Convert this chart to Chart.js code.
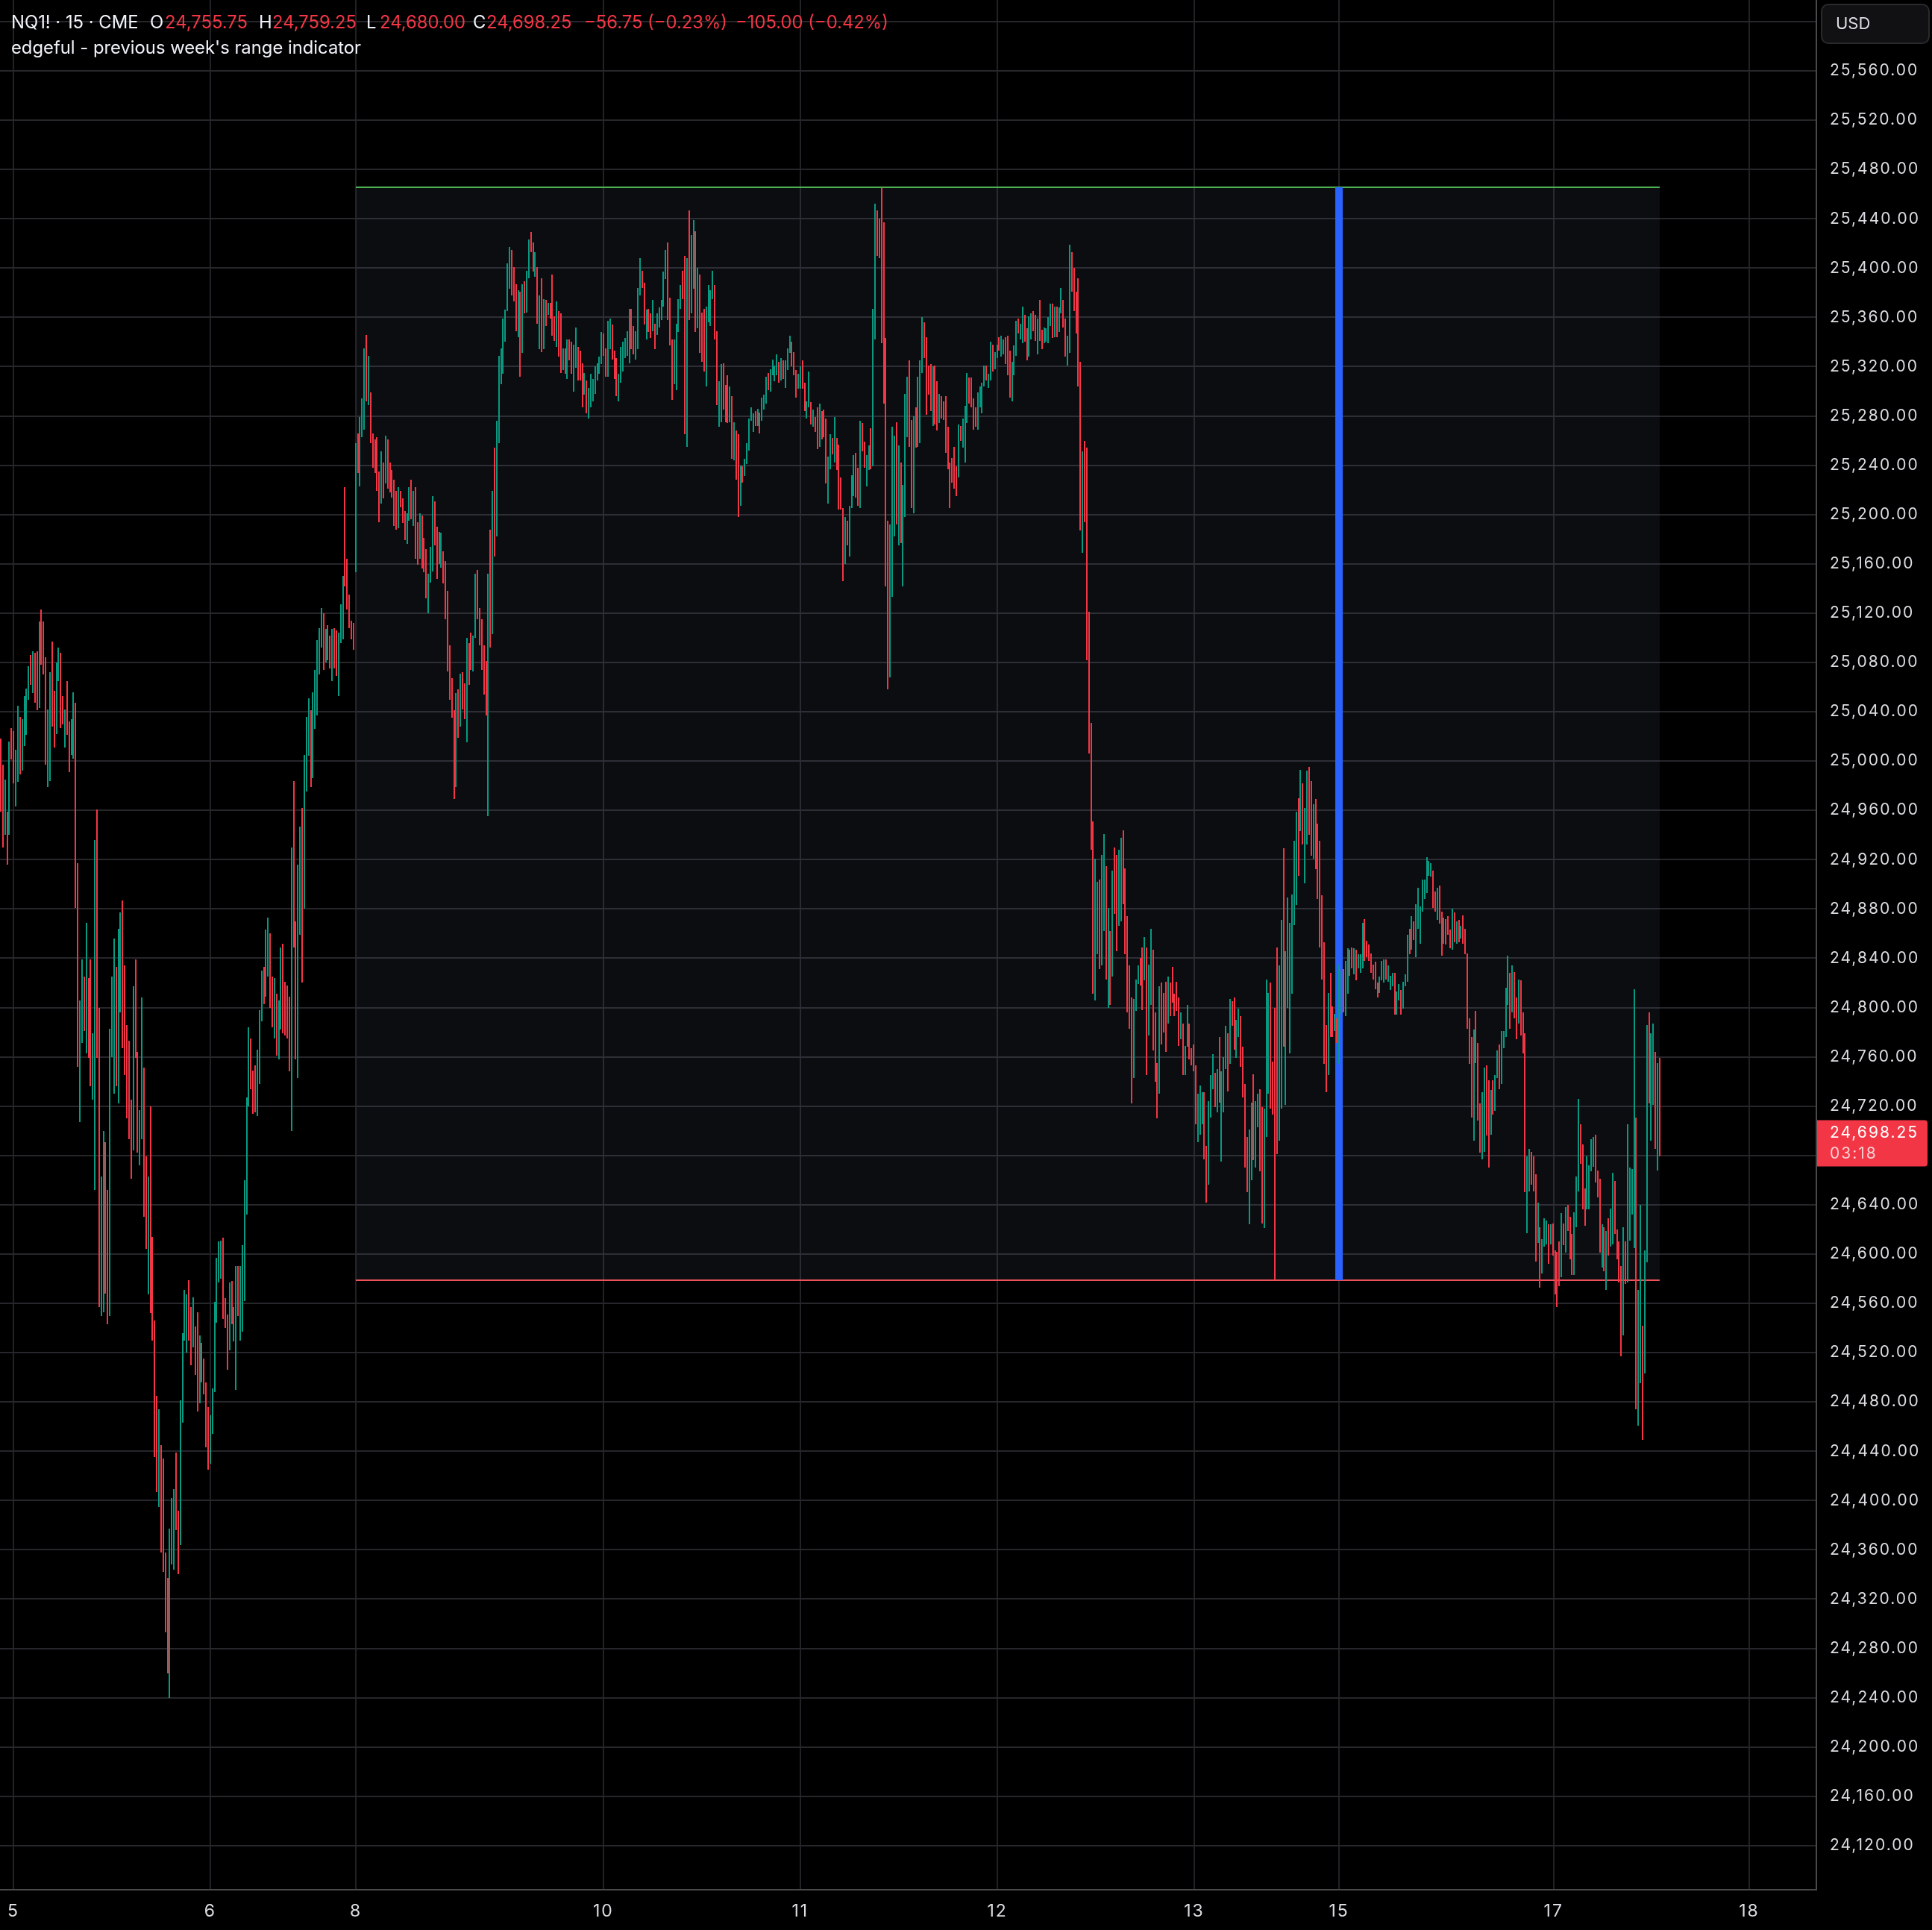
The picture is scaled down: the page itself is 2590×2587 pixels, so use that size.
<!DOCTYPE html>
<html>
<head>
<meta charset="utf-8">
<title>NQ1! 15</title>
<script src="https://cdn.jsdelivr.net/npm/chart.js@4/dist/chart.umd.min.js"></script>
<style>
  html, body { margin: 0; padding: 0; background: #000; }
  #wrap { position: relative; width: 2590px; height: 2587px; overflow: hidden; }
  #priceChart { display: block; }
  .legend { position: absolute; font: 23.8px Inter, Roboto, sans-serif; color: #f23645; white-space: pre; line-height: 26px; }
  .legend.white { color: #f0f3fa; }
</style>
</head>
<body>
<div id="wrap">
  <canvas id="priceChart" width="2590" height="2587"></canvas>
  <span class="legend white" style="left:15px;top:17px">NQ1! · 15 · CME</span>
  <span class="legend white" style="left:201px;top:17px">O</span>
  <span class="legend" style="left:221px;top:17px">24,755.75</span>
  <span class="legend white" style="left:347px;top:17px">H</span>
  <span class="legend" style="left:365px;top:17px">24,759.25</span>
  <span class="legend white" style="left:491px;top:17px">L</span>
  <span class="legend" style="left:509px;top:17px">24,680.00</span>
  <span class="legend white" style="left:634px;top:17px">C</span>
  <span class="legend" style="left:652px;top:17px">24,698.25</span>
  <span class="legend" style="left:783px;top:17px">−56.75 (−0.23%)</span>
  <span class="legend" style="left:986px;top:17px">−105.00 (−0.42%)</span>
  <span class="legend white" style="left:15px;top:51px">edgeful - previous week's range indicator</span>
</div>
<script>
// ----- valeurs (une ligne par zone d'image) -----
const barHighs = [
  25018,24997,24985,24959,25016,25027,25024,25009,25045,25036,25034,25053,25059,25077,25086,25089,25088,25089,25113,25123,25113,25084,25042,25072,25097,25057,25080,25092,25088,25053,25042,25065,25032,25034,25056,25047,24917,24806,24839,24825,24869,24824,24839,24779,24936,24961,24800,24663,24700,24691,24652,24783,24825,24856,24833,24864,24877,24887,24834,24786,24773,24725,24817,24839,24764,24717,24808,24751,24679,24663,24720,24614,24546,24485,24474,24445,24434,24358,24337,24377,24402,24409,24439,24392,24481,24536,24571,24567,24579,24557,24565,24541,24553,24534,24528,24515,24496,24476,24469,24491,24561,24597,24610,24611,24613,24564,24551,24577,24578,24557,24590,24590,
  24590,24607,24660,24727,24784,24775,24749,24753,24766,24798,24830,24833,24863,24873,24860,24825,24824,24811,24806,24849,24852,24821,24818,24809,24930,24984,24870,24916,24947,24962,25005,25036,25051,25041,25056,25074,25098,25108,25124,25120,25107,25110,25102,25107,25108,25106,25104,25127,25150,25222,25164,25135,25114,25112,25258,25266,25279,25294,25335,25346,25329,25299,25266,25261,25263,25235,25251,25242,25264,25261,25242,25236,25228,25219,25222,25219,25213,25203,25201,25222,25228,25219,25222,25194,25201,25199,25181,25172,25152,25174,25215,25211,25190,25186,25185,25170,25162,25138,25094,25067,25041,25055,25058,25071,25072,25063,25100,25096,25104,25102,25152,25155,
  25124,25115,25094,25081,25152,25188,25219,25254,25276,25329,25335,25359,25366,25404,25417,25415,25401,25387,25382,25381,25387,25389,25398,25423,25429,25421,25413,25401,25378,25392,25375,25374,25372,25372,25395,25361,25373,25365,25363,25335,25335,25342,25342,25340,25338,25352,25336,25333,25323,25315,25309,25303,25314,25310,25320,25323,25328,25348,25347,25335,25357,25359,25354,25333,25327,25314,25336,25340,25343,25349,25367,25367,25353,25349,25384,25408,25398,25388,25366,25367,25363,25374,25355,25363,25368,25374,25397,25415,25421,25376,25342,25342,25355,25375,25386,25398,25410,25408,25447,25427,25439,25430,25400,25395,25364,25367,25369,25386,25382,25398,25386,
  25349,25308,25322,25323,25305,25313,25304,25296,25275,25268,25265,25240,25239,25245,25258,25278,25287,25282,25284,25286,25283,25295,25297,25312,25315,25318,25326,25321,25330,25324,25327,25325,25325,25335,25345,25340,25332,25317,25314,25320,25325,25307,25292,25316,25291,25285,25279,25287,25290,25284,25285,25278,25247,25265,25262,25279,25262,25257,25230,25205,25198,25195,25207,25232,25248,25250,25238,25276,25274,25259,25248,25256,25270,25367,25452,25447,25440,25465,25437,25343,25195,25192,25271,25264,25275,25256,25242,25224,25298,25312,25325,25277,25280,25287,25312,25325,25360,25356,25344,25321,25322,25320,25321,25308,25298,25296,25292,25296,25271,25242,25246,25255,
  25239,25273,25272,25278,25288,25315,25311,25311,25294,25287,25299,25304,25307,25321,25321,25314,25340,25338,25332,25338,25344,25345,25342,25344,25345,25333,25324,25337,25357,25359,25355,25369,25362,25351,25361,25363,25365,25362,25359,25374,25350,25352,25351,25360,25371,25371,25369,25369,25368,25384,25374,25359,25345,25419,25413,25400,25381,25392,25324,25251,25260,25254,25121,25031,24951,24921,24902,24904,24924,24941,24915,24881,24862,24911,24930,24924,24928,24938,24944,24913,24874,24834,24808,24807,24823,24834,24840,24849,24857,24849,24835,24864,24847,24796,24755,24817,24820,24812,24821,24825,24820,24833,24811,24821,24808,24796,24787,24769,24802,24787,24767,24770,
  24753,24730,24737,24731,24731,24688,24724,24745,24762,24747,24750,24776,24748,24760,24785,24779,24807,24805,24808,24790,24799,24793,24768,24738,24695,24701,24723,24746,24724,24730,24734,24719,24718,24823,24812,24820,24756,24800,24849,24834,24871,24929,24846,24889,24869,24892,24935,24959,24970,24993,24982,24962,24992,24995,24984,24965,24969,24949,24935,24891,24853,24786,24812,24828,24801,24795,24791,24835,24830,24831,24838,24848,24847,24849,24848,24847,24843,24843,24869,24872,24854,24851,24844,24835,24837,24820,24825,24838,24839,24839,24834,24826,24828,24828,24813,24819,24814,24821,24827,24859,24864,24874,24870,24884,24897,24882,24904,24904,24922,24919,24917,
  24911,24894,24897,24899,24878,24873,24872,24874,24863,24880,24877,24870,24871,24866,24875,24864,24844,24791,24776,24782,24797,24771,24722,24731,24751,24753,24741,24733,24741,24745,24765,24770,24781,24781,24816,24842,24828,24834,24829,24808,24823,24822,24796,24779,24679,24685,24683,24679,24665,24642,24622,24612,24629,24627,24624,24624,24625,24603,24602,24610,24633,24625,24638,24640,24630,24616,24634,24663,24726,24705,24689,24653,24679,24672,24693,24695,24697,24668,24661,24624,24622,24619,24629,24637,24666,24659,24620,24610,24590,24622,24610,24705,24670,24669,24815,24711,24571,24640,24542,24603,24786,24796,24779,24787,24764,24755,24759
];
const barLows = [
  24959,24930,24940,24916,24940,25001,24982,24963,24983,24989,24992,25012,25021,25050,25062,25055,25047,25041,25043,25078,25070,24997,24979,24984,25028,25011,25022,25065,25027,25030,25011,25021,24991,25005,25002,24881,24752,24707,24771,24781,24763,24759,24736,24725,24652,24759,24557,24550,24553,24568,24543,24550,24760,24730,24736,24722,24796,24767,24745,24710,24693,24661,24684,24759,24682,24672,24693,24630,24604,24567,24552,24530,24435,24407,24395,24358,24342,24293,24260,24240,24348,24344,24376,24340,24364,24463,24530,24520,24530,24510,24524,24502,24472,24479,24496,24486,24443,24425,24430,24454,24488,24544,24577,24580,24547,24540,24506,24522,24543,24529,24490,24550,
  24530,24537,24562,24632,24720,24734,24714,24715,24712,24738,24789,24803,24809,24825,24800,24784,24775,24761,24758,24782,24779,24777,24775,24748,24700,24849,24758,24743,24859,24820,24880,24975,25004,24979,24986,25026,25037,25070,25092,25074,25080,25082,25075,25065,25075,25069,25053,25096,25099,25142,25123,25108,25099,25090,25153,25234,25223,25263,25269,25292,25289,25258,25238,25234,25219,25194,25209,25213,25225,25221,25218,25214,25191,25188,25189,25206,25193,25179,25176,25195,25196,25191,25164,25159,25164,25156,25153,25132,25120,25145,25154,25175,25148,25160,25157,25144,25115,25073,25050,25035,24969,24979,25019,25028,25042,25034,25015,25062,25074,25073,25100,25115,
  25094,25074,25054,25037,24955,25092,25103,25166,25182,25258,25306,25314,25340,25365,25383,25378,25373,25349,25344,25312,25331,25363,25364,25392,25413,25397,25393,25355,25334,25332,25334,25353,25362,25359,25345,25341,25336,25328,25315,25317,25314,25310,25325,25314,25300,25319,25309,25309,25287,25297,25282,25278,25287,25292,25298,25309,25314,25322,25329,25312,25312,25334,25326,25310,25296,25292,25307,25316,25327,25329,25323,25334,25330,25326,25334,25378,25384,25354,25342,25348,25343,25349,25334,25346,25352,25358,25369,25391,25358,25337,25293,25306,25301,25348,25367,25375,25265,25255,25358,25363,25383,25348,25351,25331,25324,25316,25304,25356,25353,25375,25342,
  25289,25271,25275,25285,25275,25274,25275,25245,25244,25228,25198,25207,25226,25231,25241,25252,25276,25267,25272,25272,25266,25276,25285,25290,25301,25300,25313,25308,25313,25307,25309,25310,25303,25317,25331,25320,25313,25295,25302,25302,25302,25284,25278,25287,25273,25271,25267,25253,25255,25261,25263,25225,25209,25237,25249,25242,25236,25204,25204,25146,25160,25175,25166,25205,25215,25214,25207,25205,25251,25238,25223,25236,25237,25239,25342,25410,25408,25339,25290,25142,25058,25068,25133,25182,25192,25175,25177,25142,25198,25263,25255,25205,25201,25254,25255,25258,25315,25327,25281,25297,25284,25272,25273,25268,25274,25278,25277,25250,25237,25205,25226,25221,
  25215,25230,25260,25254,25242,25274,25290,25287,25269,25271,25269,25287,25282,25304,25309,25303,25309,25316,25318,25327,25333,25328,25330,25322,25313,25295,25292,25313,25329,25347,25342,25339,25340,25325,25328,25342,25349,25341,25330,25341,25334,25339,25340,25339,25353,25343,25344,25344,25348,25363,25352,25328,25321,25331,25381,25365,25347,25304,25187,25169,25194,25082,25006,24928,24811,24806,24843,24831,24834,24862,24823,24800,24802,24825,24876,24846,24866,24870,24884,24843,24796,24783,24722,24743,24797,24819,24818,24798,24822,24745,24777,24802,24765,24740,24710,24730,24770,24780,24764,24787,24793,24804,24793,24797,24769,24774,24745,24745,24768,24758,24753,24748,
  24705,24691,24697,24705,24677,24642,24656,24711,24734,24719,24715,24723,24675,24715,24750,24732,24754,24785,24766,24759,24776,24752,24727,24670,24650,24624,24660,24676,24670,24703,24667,24625,24621,24695,24730,24718,24713,24579,24681,24692,24718,24768,24721,24800,24763,24811,24867,24883,24907,24943,24932,24901,24932,24940,24923,24921,24912,24888,24849,24823,24754,24731,24745,24776,24776,24781,24771,24754,24795,24796,24793,24811,24826,24832,24827,24822,24832,24828,24832,24838,24841,24838,24828,24823,24815,24808,24812,24822,24820,24823,24821,24814,24817,24794,24794,24806,24794,24799,24817,24821,24843,24847,24855,24841,24864,24852,24878,24888,24893,24907,24906,
  24881,24878,24871,24868,24842,24852,24851,24859,24848,24847,24853,24852,24853,24856,24852,24843,24783,24754,24711,24692,24755,24708,24682,24677,24683,24696,24670,24697,24713,24716,24743,24734,24738,24767,24776,24802,24783,24796,24791,24774,24787,24777,24763,24650,24617,24651,24656,24651,24594,24609,24573,24584,24606,24608,24592,24608,24599,24567,24557,24574,24581,24607,24601,24619,24596,24583,24583,24622,24651,24673,24636,24623,24636,24636,24667,24671,24658,24646,24601,24589,24586,24571,24599,24606,24608,24616,24596,24577,24517,24534,24576,24577,24611,24632,24605,24474,24461,24495,24449,24503,24593,24722,24692,24721,24685,24668,24679
];
const barDirections = (
  "rrgrgrrggr" + "ggggrgrrgr" + "rrggrrggrr" + "grrggrrggr" + "grrggrrggr" + "rgggrggrrr" + "rrgrrggrrg" + "rrrrgrrrrg" + "ggrrggggrr" + "grrgrrrrgg" + "ggggrrrgrg" + "gr" +
  "gggggrrrgg" + "grggrrgrgg" + "rrrrgrrggr" + "gggrgggggr" + "grrgrrgggr" + "rrrrgrgggr" + "grrrrrgrgr" + "rrrrgrrrgg" + "rgrrgrrrgg" + "grrrgrrrrr" + "rgrgrrgrrg" + "gr" +
  "rrrrgrgrgg" + "gggggrrrgr" + "grggrrgrgr" + "grgrrrgrrg" + "rgrrggrrrg" + "rgggggggrr" + "ggrrrggggg" + "grrgggrrgr" + "rgrgggggrr" + "rggggrrgrg" + "grgrrrgggg" + "r" +
  "rggrrrgrgr" + "rgrgggggrg" + "rgggrggggr" + "grgggrrrgg" + "rrggrgrrgr" + "rrggrgrrrr" + "grgggrrgrr" + "ggrggrrrrr" + "rgggrgrggg" + "rrgrgggrrr" + "rgrrgrrrrr" + "rr" +
  "rgrgggrrrr" + "ggggrggrgg" + "rggrrrgggr" + "ggrrggrrgr" + "rggggrgrgg" + "rrggrrrrrg" + "rrrrrggrgg" + "rgrgrrggrr" + "rrrgggrrgr" + "ggrrrgrrrg" + "rrrrrgrggr" + "rr" +
  "rgggrrgggr" + "grgggrgrrg" + "grrrrggrgg" + "rrgggrrrrg" + "grggggggrg" + "rggrrgrrrr" + "rrgrrgrggr" + "ggrrgrgggr" + "rrrrrrgggr" + "gggrggrggg" + "rgrggggggg" + "g" +
  "rrgrrgrrrg" + "rgrgrrrrrg" + "rrrggrrgrg" + "grggggrgrr" + "grrrggrrrg" + "rgggrgrrrr" + "grgrrrgggr" + "rrggggrrrg" + "rgrggrrrrg" + "rggggrggrg" + "grggrgr"
).split("");

const priceMin = 24084.2;
const priceMax = 25617.5;
const priceStep = 40;
const hiddenPriceLabels = [25600, 24680];   // cachés par le badge USD et l'étiquette de prix

const dayLabels = ["5", "6", "8", "10", "11", "12", "13", "15", "17", "18"];
const dayBars = [5.9, 98, 166.1, 281.9, 374, 466.2, 558.3, 626, 726.4, 817.9];

const rangeHigh = 25465.6;
const rangeLow = 24578.8;
const rangeStartBar = 166.1;
const rangeEndBar = 776;
const markerBar = 626;
const lastPrice = 24698.25;

// ----- couleurs -----
const GREEN = "#089981";
const RED = "#f23645";
const GRID = "#26262b";
const AXIS = "#4a4a4a";
const LABEL = "#dcdde2";
const FONT = "Inter, Roboto, sans-serif";

// ----- plugin : bougies sur pixels entiers, espacement des chiffres, badge et étiquette -----
const chartDecor = {
  id: "chartDecor",
  afterDatasetsUpdate(chart) {
    chart.getDatasetMeta(0).data.forEach(el => {
      el.x = Math.round(el.x);
      el.y = Math.round(el.y);
      el.base = Math.round(el.base);
    });
  },
  beforeDraw(chart) {
    chart.ctx.letterSpacing = "2px";
  },
  afterDraw(chart) {
    const ctx = chart.ctx;
    const right = chart.chartArea.right;
    const y = chart.scales.y.getPixelForValue(lastPrice);

    ctx.save();
    // étiquette du dernier prix
    ctx.fillStyle = RED;
    ctx.beginPath();
    ctx.roundRect(right + 1, y - 17, 148, 62, [0, 4, 4, 0]);
    ctx.fill();
    ctx.font = "21px " + FONT;
    ctx.textBaseline = "middle";
    ctx.textAlign = "left";
    ctx.fillStyle = "#ffffff";
    ctx.fillText("24,698.25", right + 18, y);
    ctx.fillStyle = "#f9cdd1";
    ctx.fillText("03:18", right + 18, y + 28);

    // badge devise
    ctx.fillStyle = "#111113";
    ctx.strokeStyle = "#2a2a2e";
    ctx.lineWidth = 2;
    ctx.beginPath();
    ctx.roundRect(right + 7, 6, 144, 52, 9);
    ctx.fill();
    ctx.stroke();
    ctx.letterSpacing = "0px";
    ctx.font = "22px " + FONT;
    ctx.fillStyle = "#dcdde2";
    ctx.fillText("USD", right + 26, 32);
    ctx.restore();
  }
};

// ----- graphique -----
const candleData = barHighs.map((high, i) => ({ x: i, y: [barLows[i], high] }));

new Chart(document.getElementById("priceChart"), {
  type: "bar",
  plugins: [chartDecor],
  data: {
    datasets: [
      {
        label: "NQ1!",
        data: candleData,
        backgroundColor: barDirections.map(d => (d === "g" ? GREEN : RED)),
        barThickness: 2,
        inflateAmount: 0,
        grouped: false,
        order: 0
      },
      {
        label: "marker",
        data: [{ x: markerBar, y: [rangeLow, rangeHigh] }],
        backgroundColor: "#2962ff",
        barThickness: 10,
        inflateAmount: 0,
        grouped: false,
        order: 1
      },
      {
        type: "line",
        label: "previous week high",
        data: [{ x: rangeStartBar, y: rangeHigh }, { x: rangeEndBar, y: rangeHigh }],
        borderColor: "#4caf50",
        borderWidth: 2,
        pointRadius: 0,
        fill: "+1",
        backgroundColor: "rgba(115,130,155,0.1)",
        order: 2
      },
      {
        type: "line",
        label: "previous week low",
        data: [{ x: rangeStartBar, y: rangeLow }, { x: rangeEndBar, y: rangeLow }],
        borderColor: "#f05058",
        borderWidth: 2,
        pointRadius: 0,
        order: 3
      }
    ]
  },
  options: {
    responsive: false,
    animation: false,
    events: [],
    layout: { padding: 0, autoPadding: false },
    plugins: { legend: { display: false }, tooltip: { enabled: false } },
    scales: {
      x: {
        type: "linear",
        offset: false,
        min: -0.35,
        max: 849.3,
        afterBuildTicks: scale => {
          scale.ticks = dayBars.map(value => ({ value }));
        },
        afterFit: scale => {
          scale.height = 54;
          scale.paddingLeft = 0;
          scale.paddingRight = 0;
        },
        grid: { color: "#222226", lineWidth: 2, offset: false, drawTicks: false },
        border: { color: AXIS, width: 2 },
        ticks: {
          autoSkip: false,
          maxRotation: 0,
          padding: 15,
          color: LABEL,
          font: { family: FONT, size: 23 },
          callback: value => dayLabels[dayBars.indexOf(value)]
        }
      },
      y: {
        position: "right",
        min: priceMin,
        max: priceMax,
        afterFit: scale => {
          scale.width = 155;
          scale.paddingTop = 0;
          scale.paddingBottom = 0;
        },
        grid: { color: GRID, lineWidth: 2, drawTicks: false },
        border: { color: AXIS, width: 2 },
        ticks: {
          stepSize: priceStep,
          includeBounds: false,
          padding: 18,
          color: LABEL,
          font: { family: FONT, size: 21 },
          callback: value => hiddenPriceLabels.includes(value) ? "" : value.toLocaleString("en-US", { minimumFractionDigits: 2, maximumFractionDigits: 2 })
        }
      }
    }
  }
});
</script>
</body>
</html>
